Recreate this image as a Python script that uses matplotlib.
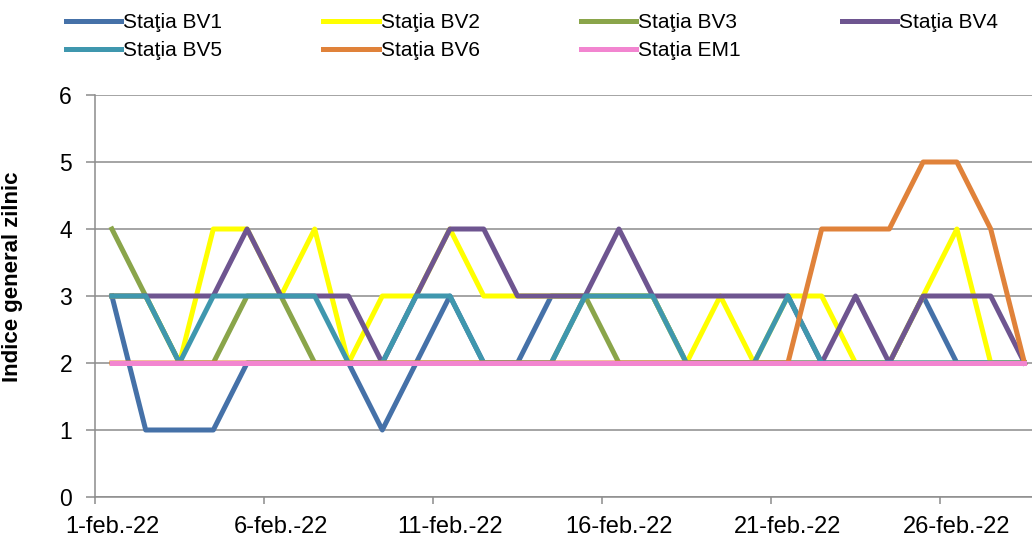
import matplotlib
matplotlib.use("Agg")
import matplotlib.pyplot as plt
from matplotlib.ticker import FixedLocator, NullFormatter

plt.rcParams["font.family"] = ["Liberation Sans", "DejaVu Sans"]

# days of February 2022
days = list(range(1, 29))
tick_days = [1, 6, 11, 16, 21, 26]
tick_labels = ["1-feb.-22", "6-feb.-22", "11-feb.-22", "16-feb.-22", "21-feb.-22", "26-feb.-22"]

# daily general index per station
bv1 = [3, 1, 1, 1, 2, 2, 2, 2, 1, 2, 3, 2, 2, 3, 3, 3, 3, 2, 2, 2, 2, 2, 2, 2, 3, 2, 2, 2]
bv2 = [3, 3, 2, 4, 4, 3, 4, 2, 3, 3, 4, 3, 3, 3, 3, 3, 3, 2, 3, 2, 3, 3, 2, 2, 3, 4, 2, 2]
bv3 = [4, 3, 2, 2, 3, 3, 2, 2, 2, 2, 2, 2, 2, 2, 3, 2, 2, 2, 2, 2, 2, 2, 2, 2, 2, 2, 2, 2]
bv4 = [3, 3, 3, 3, 4, 3, 3, 3, 2, 3, 4, 4, 3, 3, 3, 4, 3, 3, 3, 3, 3, 2, 3, 2, 3, 3, 3, 2]
bv5 = [3, 3, 2, 3, 3, 3, 3, 2, 2, 3, 3, 2, 2, 2, 3, 3, 3, 2, 2, 2, 3, 2, 2, 2, 2, 2, 2, 2]
bv6 = [2, 2, 2, 2, 2, 2, 2, 2, 2, 2, 2, 2, 2, 2, 2, 2, 2, 2, 2, 2, 2, 4, 4, 4, 5, 5, 4, 2]
em1 = [2] * 28

series = [
    ("Staţia BV1", bv1, "#4571a8"),
    ("Staţia BV2", bv2, "#ffff00"),
    ("Staţia BV3", bv3, "#8aa54a"),
    ("Staţia BV4", bv4, "#6e5590"),
    ("Staţia BV5", bv5, "#3f97ae"),
    ("Staţia BV6", bv6, "#e0823a"),
    ("Staţia EM1", em1, "#f285d0"),
]

fig = plt.figure(figsize=(10.32, 5.41), dpi=100)
W, H = 1032, 541
left_px, right_px, top_px, bottom_px = 95, 95 + 28 * 33.8, 95, 497
ax = fig.add_axes([left_px / W, 1 - bottom_px / H, (right_px - left_px) / W, (bottom_px - top_px) / H])

grid_col = "#8c8c8c"
lines = []
for label, vals, col in series:
    ln, = ax.plot(days, vals, color=col, lw=3.6, label=label, zorder=3)
    lines.append(ln)

ax.set_xlim(0.5, 28.5)
ax.set_ylim(0, 6)
ax.set_yticks(range(0, 7))
ax.yaxis.grid(True, color=grid_col, lw=1.1, zorder=1)
ax.set_axisbelow(True)

# category axis: tick marks between categories, labels under the days
ax.xaxis.set_major_locator(FixedLocator([0.5, 5.5, 10.5, 15.5, 20.5, 25.5]))
ax.xaxis.set_major_formatter(NullFormatter())
ax.xaxis.set_minor_locator(FixedLocator(tick_days))
ax.set_xticklabels(tick_labels, minor=True)
ax.tick_params(axis="x", which="major", length=5, width=1.1, color=grid_col, direction="out")
ax.tick_params(axis="x", which="minor", length=0, pad=14, labelsize=17)
ax.tick_params(axis="y", length=6.5, width=1.1, color=grid_col, pad=10, labelsize=16.5)

for s in ["top", "right"]:
    ax.spines[s].set_visible(False)
for s in ["left", "bottom"]:
    ax.spines[s].set_color(grid_col)
    ax.spines[s].set_linewidth(1.1)

ax.set_ylabel("Indice general zilnic", fontsize=16, fontweight="bold")
ax.yaxis.set_label_coords((23 - left_px) / (right_px - left_px), (bottom_px - 277) / (bottom_px - top_px))

# legend is filled column by column, so order it to read row by row
order = [0, 4, 1, 5, 2, 6, 3]
fig.legend(
    [lines[i] for i in order],
    [series[i][0] for i in order],
    loc="upper left",
    bbox_to_anchor=(66 / W, 1 - 13 / H),
    ncol=4,
    frameon=False,
    fontsize=15,
    handlelength=2.65,
    handletextpad=0.1,
    columnspacing=4.85,
    labelspacing=0.45,
    borderpad=0,
    borderaxespad=0,
)

fig.savefig("out.png", dpi=100)
plt.close(fig)
